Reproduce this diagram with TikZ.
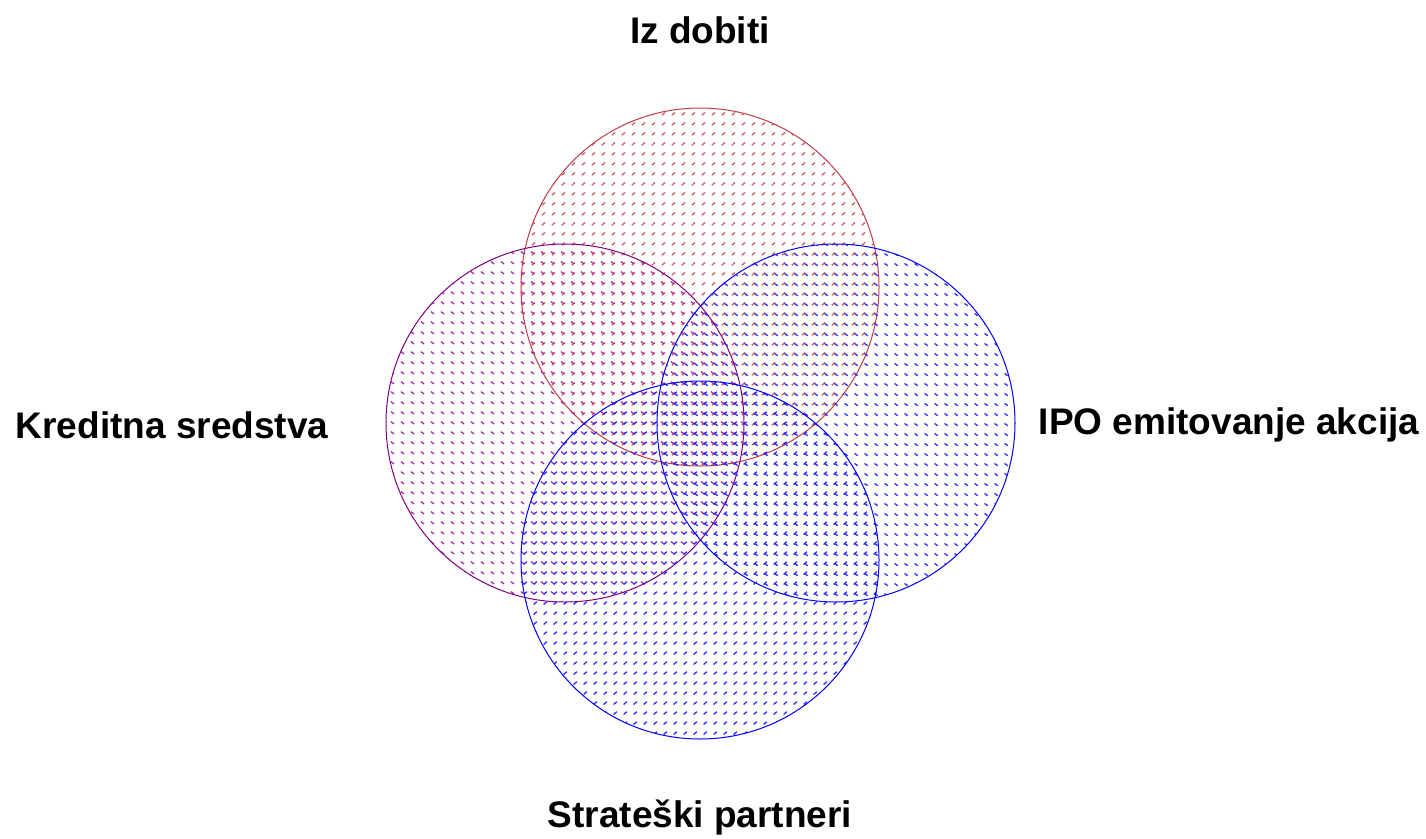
\documentclass[tikz,border=0pt]{standalone}
\usepackage{fontspec}
\setmainfont{Liberation Sans}
\usetikzlibrary{patterns.meta}
\tikzdeclarepattern{
  name=upmarks,
  type=uncolored,
  bottom left={(0pt,0pt)},
  top right={(10pt,10pt)},
  tile size={(10pt,10pt)},
  code={
    \draw[line width=1.4pt] (2pt,3pt) -- (5.5pt,6pt);
  }
}
\tikzdeclarepattern{
  name=upmarksb,
  type=uncolored,
  bottom left={(0pt,0pt)},
  top right={(10pt,10pt)},
  tile size={(10pt,10pt)},
  code={
    \draw[line width=1.4pt] (4pt,5pt) -- (7.5pt,8pt);
  }
}
\tikzdeclarepattern{
  name=downmarks,
  type=uncolored,
  bottom left={(0pt,0pt)},
  top right={(10pt,10pt)},
  tile size={(10pt,10pt)},
  code={
    \draw[line width=1.4pt] (1pt,7pt) -- (4.5pt,4.5pt);
  }
}
\tikzdeclarepattern{
  name=downmarksb,
  type=uncolored,
  bottom left={(0pt,0pt)},
  top right={(10pt,10pt)},
  tile size={(10pt,10pt)},
  code={
    \draw[line width=1.4pt] (5pt,5pt) -- (8.5pt,2.5pt);
  }
}
\definecolor{topc}{RGB}{190,60,70}
\definecolor{topp}{RGB}{215,90,100}
\definecolor{leftc}{RGB}{128,0,128}
\definecolor{leftp}{RGB}{165,40,165}
\definecolor{bluec}{RGB}{0,0,255}
\definecolor{bluep}{RGB}{40,40,255}
\tikzset{
  lbl/.style={font=\fontsize{37}{40}\selectfont\bfseries, inner sep=0pt},
  venn/.style={circle, minimum size=358pt, inner sep=0pt, line width=1pt}
}
\begin{document}
\begin{tikzpicture}[x=1pt,y=-1pt]
\useasboundingbox (0,0) rectangle (1426,838);
\node[venn, draw=topc, pattern={upmarks}, pattern color=topp] (top) at (700,287) {};
\node[venn, draw=leftc, pattern={downmarks}, pattern color=leftp] (left) at (565,423) {};
\node[venn, draw=bluec, pattern={downmarksb}, pattern color=bluep] (right) at (836,423) {};
\node[venn, draw=bluec, pattern={upmarksb}, pattern color=bluep] (bot) at (700,560) {};
\node[lbl] (tl) at (700,30) {Iz dobiti};
\node[lbl] (ll) at (172,425) {Kreditna sredstva};
\node[lbl] (rl) at (1229,425) {IPO emitovanje akcija};
\node[lbl] (bl) at (700,818) {Strateški partneri};
\end{tikzpicture}
\end{document}
